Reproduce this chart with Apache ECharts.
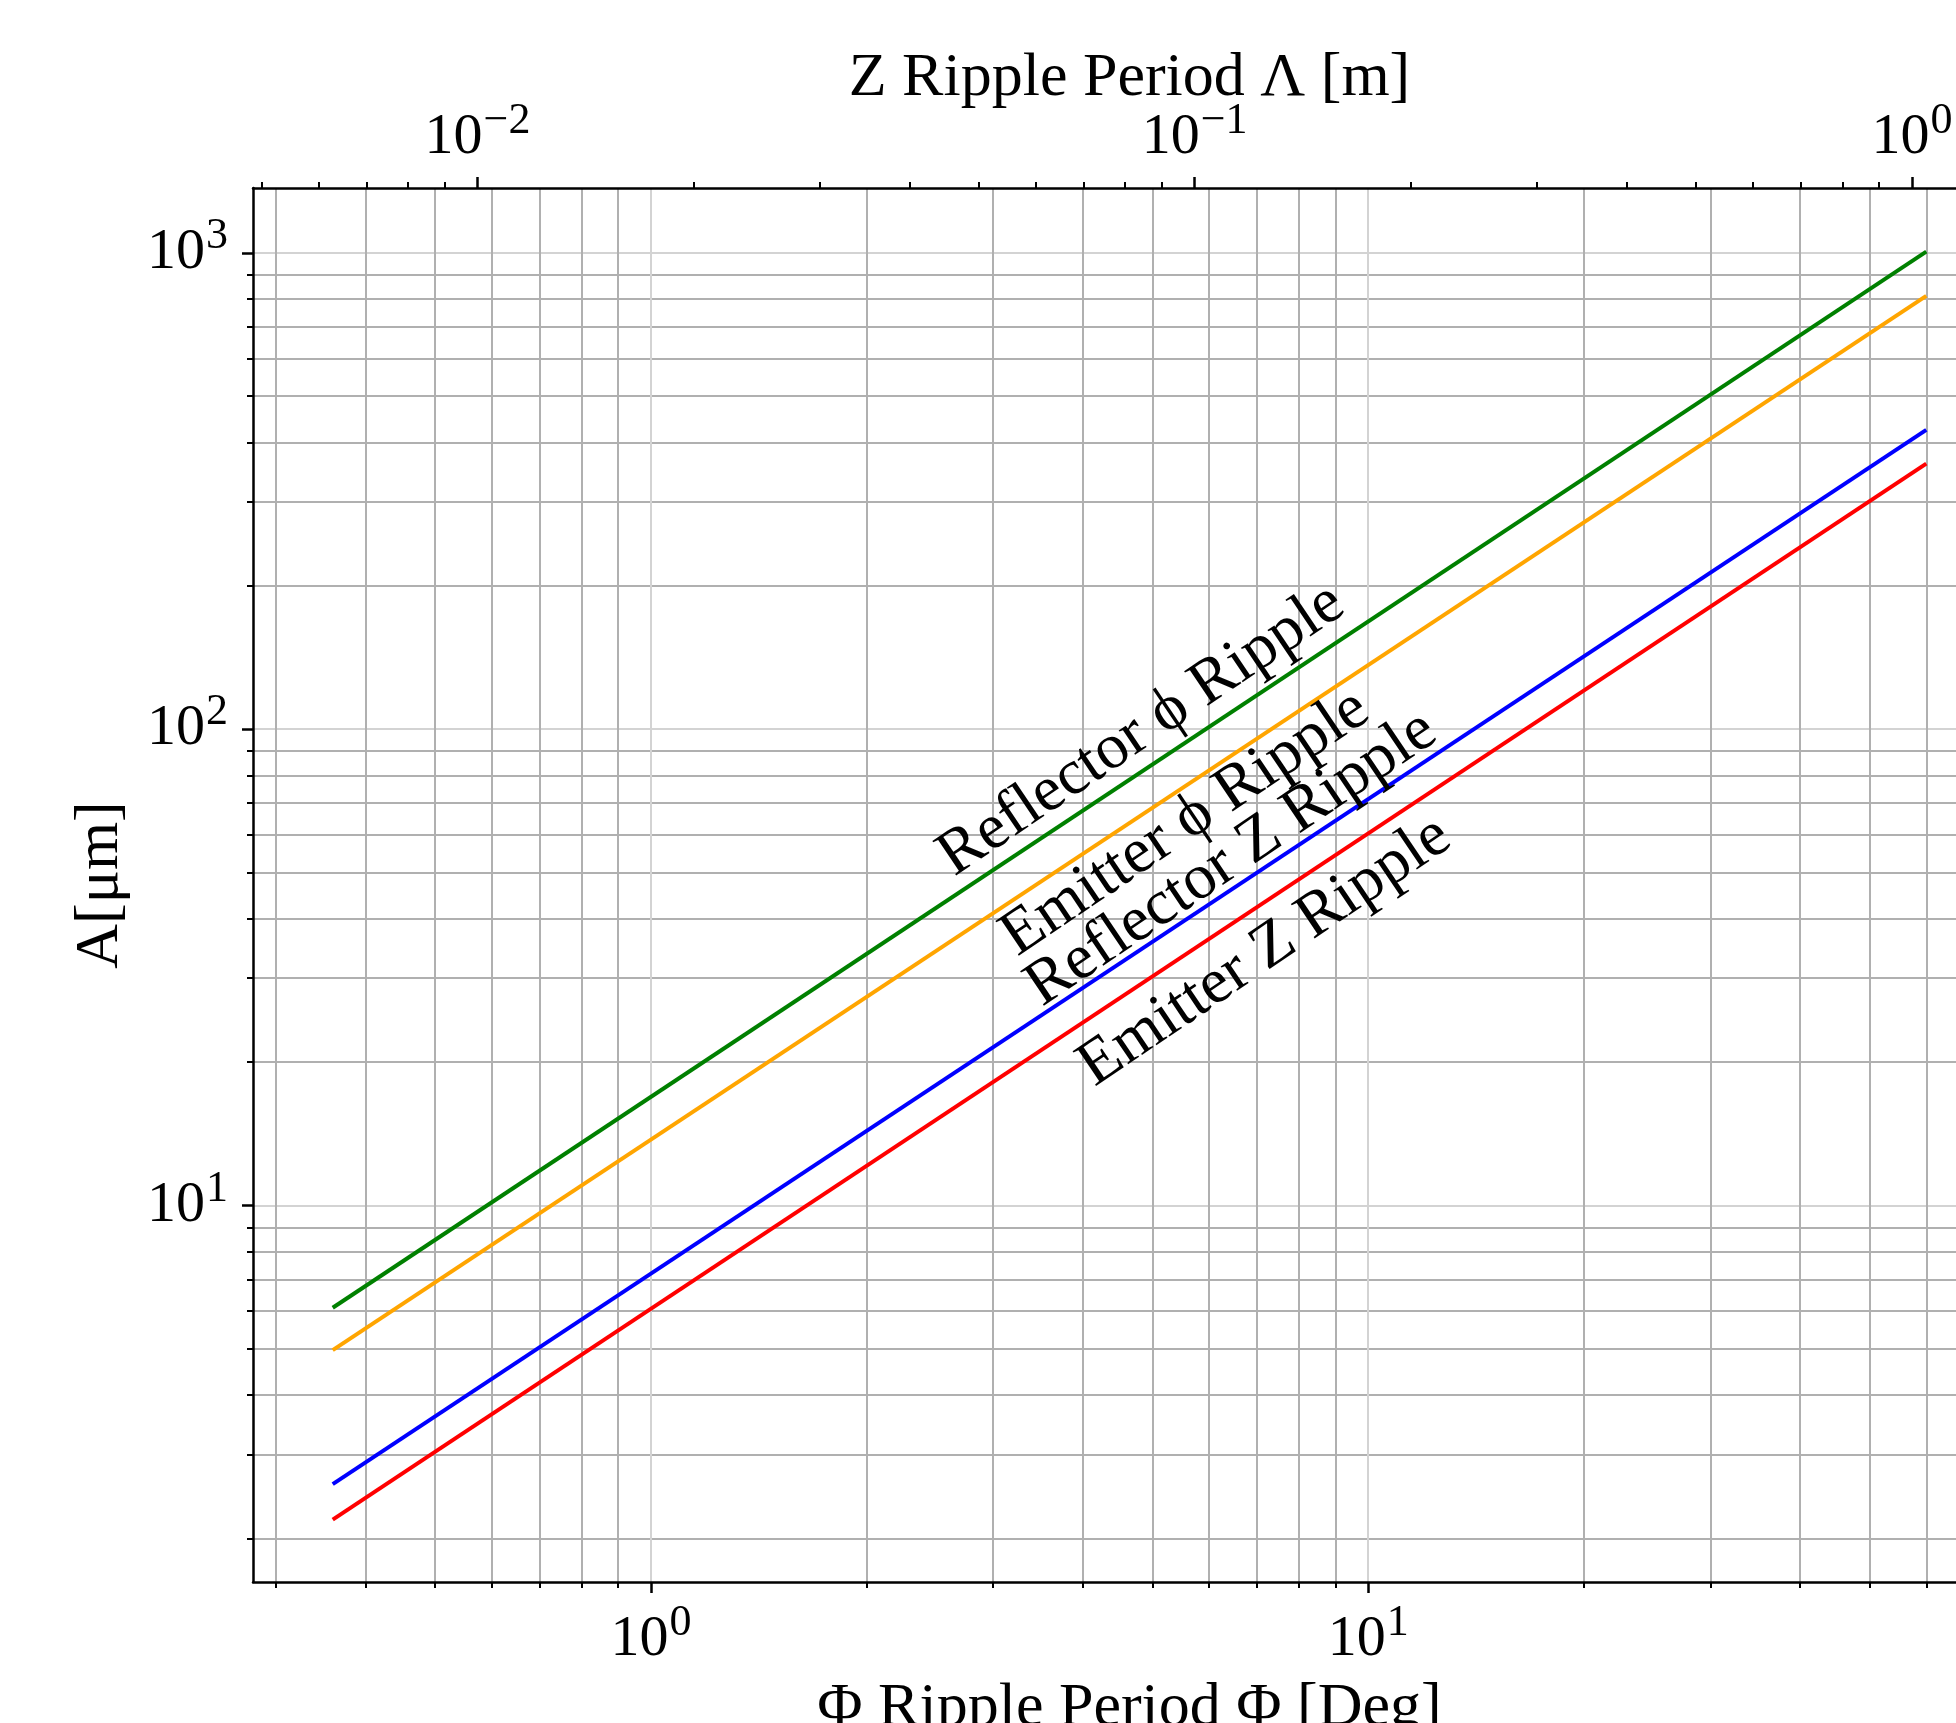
<!DOCTYPE html>
<html>
<head>
<meta charset="utf-8">
<script src="https://cdn.jsdelivr.net/npm/echarts@6/dist/echarts.min.js"></script>
<style>
html, body { margin: 0; padding: 0; background: #fff; }
#chart { width: 1956px; height: 1723px; }
</style>
</head>
<body>
<div id="chart"></div>
<script>
// ---- data (log-log, two ends per line) ----
var phiDeg = [0.36, 60];
var reflectorPhi = [6.1, 1006];
var emitterPhi = [4.97, 812];
var reflectorZ = [2.6, 425];
var emitterZ = [2.19, 361];

// axis ranges
var phiRange = [0.2787, 77.5];
var ampRange = [1.62, 1368];

// tick values
var phiMajor = [1, 10];
var phiMinor = [0.3, 0.4, 0.5, 0.6, 0.7, 0.8, 0.9, 2, 3, 4, 5, 6, 7, 8, 9, 20, 30, 40, 50, 60, 70];
var lambdaMajor = [0.01, 0.1, 1];
var lambdaMinor = [0.005, 0.006, 0.007, 0.008, 0.009, 0.02, 0.03, 0.04, 0.05, 0.06, 0.07, 0.08, 0.09,
    0.2, 0.3, 0.4, 0.5, 0.6, 0.7, 0.8, 0.9];
var ampMajor = [10, 100, 1000];
var ampMinor = [2, 3, 4, 5, 6, 7, 8, 9, 20, 30, 40, 50, 60, 70, 80, 90, 200, 300, 400, 500, 600, 700, 800, 900];

// labels on the lines: [text, phi, A]
var lineNotes = [
    ['Reflector \u03d5 Ripple', 4.83, 99.5],
    ['Emitter \u03d5 Ripple', 5.56, 63.5],
    ['Reflector Z Ripple', 6.45, 53.4],
    ['Emitter Z Ripple', 7.18, 34.1]
];

var serif = '"Liberation Serif", "Times New Roman", "DejaVu Serif", serif';
var degToM = Math.PI / 180; // 1 m radius

function powLabel(v) {
    var e = Math.round(Math.log(v) / Math.LN10);
    var s = e < 0 ? '\u2212' + (-e) : '' + e;
    return '{b|10}{s|' + s + '}';
}
var labelRich = {
    b: { fontFamily: serif, fontSize: 58, color: '#000' },
    s: { fontFamily: serif, fontSize: 44, color: '#000', padding: [0, 0, 33, 1] }
};

function majorAxis(pos, range, ticks, margin, grid) {
    return {
        type: 'log',
        logBase: 10,
        position: pos,
        min: range[0],
        max: range[1],
        nameMoveOverlap: false,
        axisLine: { show: true, onZero: false, lineStyle: { color: '#000', width: 2.5 } },
        axisTick: { show: true, length: 11, customValues: ticks, lineStyle: { color: '#000', width: 2.5 } },
        axisLabel: { show: true, customValues: ticks, margin: margin, formatter: powLabel, rich: labelRich },
        splitLine: { show: grid, lineStyle: { color: '#d3d3d3', width: 2 } },
        minorTick: { show: false },
        minorSplitLine: { show: false }
    };
}
function minorAxis(pos, range, ticks, grid) {
    return {
        type: 'log',
        logBase: 10,
        position: pos,
        min: range[0],
        max: range[1],
        axisLine: { show: false, onZero: false },
        axisTick: { show: true, length: 6, customValues: ticks, lineStyle: { color: '#000', width: 2 } },
        axisLabel: { show: false },
        splitLine: { show: grid, lineStyle: { color: '#b0b0b0', width: 2 } }
    };
}

var phiAxis = majorAxis('bottom', phiRange, phiMajor, 19, true);
phiAxis.name = '\u03a6 Ripple Period \u03a6 [Deg]';
phiAxis.nameLocation = 'middle';
phiAxis.nameGap = 96;
phiAxis.nameTextStyle = { fontFamily: serif, fontSize: 62, color: '#000' };

var lambdaRange = [phiRange[0] * degToM, phiRange[1] * degToM];
var lambdaAxis = majorAxis('top', lambdaRange, lambdaMajor, 12, false);
lambdaAxis.name = 'Z Ripple Period \u039b [m]';
lambdaAxis.nameLocation = 'middle';
lambdaAxis.nameGap = 78;
lambdaAxis.nameTextStyle = { fontFamily: serif, fontSize: 62, color: '#000' };

var ampAxis = majorAxis('left', ampRange, ampMajor, 25, true);
ampAxis.name = 'A[\u03bcm]';
ampAxis.nameLocation = 'middle';
ampAxis.nameGap = 121;
ampAxis.nameTextStyle = { fontFamily: serif, fontSize: 62, color: '#000' };

function pairs(ys) {
    return phiDeg.map(function (p, i) { return [p, ys[i]]; });
}
function lineSeries(name, ys, color) {
    return {
        name: name,
        type: 'line',
        xAxisIndex: 0,
        yAxisIndex: 0,
        showSymbol: false,
        symbol: 'none',
        lineStyle: { color: color, width: 4 },
        data: pairs(ys),
        z: 5
    };
}

var chart = echarts.init(document.getElementById('chart'));
var option = {
    animation: false,
    backgroundColor: '#fff',
    // plot runs past the right edge of the window, as in the picture
    grid: { left: 253, top: 188, width: 1753, height: 1394, outerBoundsMode: 'none', containLabel: false },
    xAxis: [
        phiAxis,
        minorAxis('bottom', phiRange, phiMinor, true),
        lambdaAxis,
        minorAxis('top', lambdaRange, lambdaMinor, false)
    ],
    yAxis: [
        ampAxis,
        minorAxis('left', ampRange, ampMinor, true)
    ],
    series: [
        lineSeries('Reflector \u03d5 Ripple', reflectorPhi, '#008000'),
        lineSeries('Emitter \u03d5 Ripple', emitterPhi, '#ffa500'),
        lineSeries('Reflector Z Ripple', reflectorZ, '#0000ff'),
        lineSeries('Emitter Z Ripple', emitterZ, '#ff0000')
    ]
};
chart.setOption(option);

// line labels, placed in data coordinates, rotated along the lines
var notes = lineNotes.map(function (n) {
    var pt = chart.convertToPixel({ xAxisIndex: 0, yAxisIndex: 0 }, [n[1], n[2]]);
    return {
        type: 'text',
        x: pt[0],
        y: pt[1],
        rotation: 34 * Math.PI / 180,
        z: 10,
        style: {
            text: n[0],
            fontFamily: serif,
            fontSize: 64,
            fill: '#000',
            align: 'center',
            verticalAlign: 'middle',
            textAlign: 'center',
            textVerticalAlign: 'middle'
        }
    };
});
chart.setOption({ graphic: notes });
</script>
</body>
</html>
